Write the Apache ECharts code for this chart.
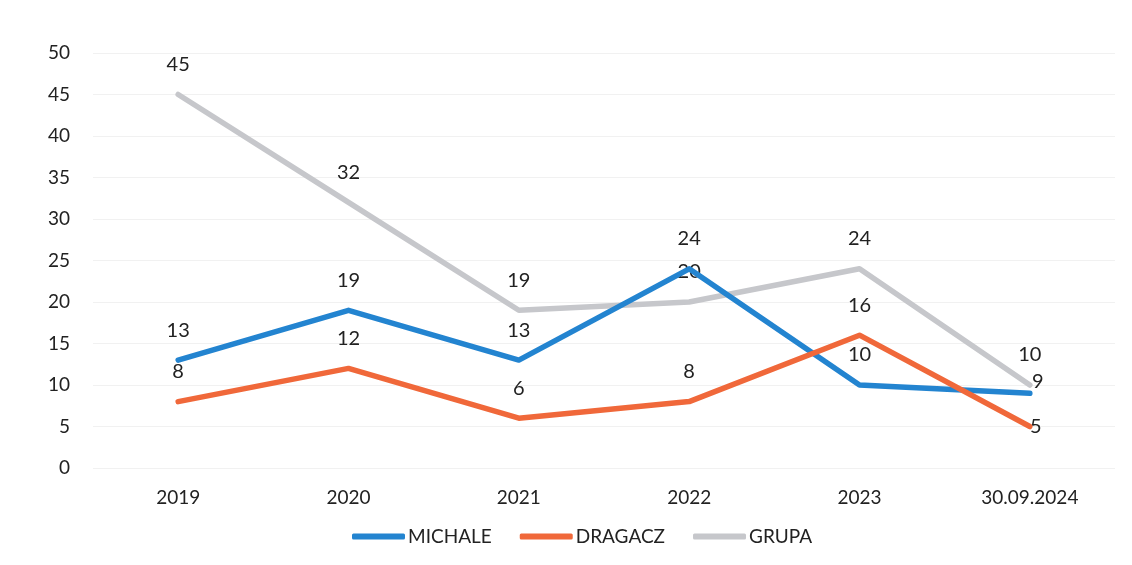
<!DOCTYPE html>
<html>
<head>
<meta charset="utf-8">
<script src="https://cdn.jsdelivr.net/npm/echarts@6/dist/echarts.min.js"></script>
<style>html,body{margin:0;padding:0;background:#fff}#c{width:1132px;height:565px}</style>
</head>
<body>
<div id="c"></div>
<script>
const categories = ['2019', '2020', '2021', '2022', '2023', '30.09.2024'];
const michale = [13, 19, 13, 24, 10, 9];
const dragacz = [8, 12, 6, 8, 16, 5];
const grupa = [45, 32, 19, 20, 24, 10];
const yTicks = { min: 0, max: 50, interval: 5 };

const FONT = 'Lato';
const labelStyle = { show: true, position: 'top', distance: 20, fontSize: 20, color: '#222', fontFamily: FONT };

function withLastOffset(values, offset) {
  return values.map((v, i) => i === values.length - 1
    ? { value: v, label: { position: 'inside', offset: offset } }
    : v);
}

function lineSeries(name, data, color, z) {
  return {
    name: name, type: 'line', data: data, z: z,
    symbol: 'circle', symbolSize: 0, showSymbol: true,
    lineStyle: { color: color, width: 5.5, cap: 'round', join: 'round' },
    itemStyle: { color: color },
    label: labelStyle,
    emphasis: { disabled: true }
  };
}

const chart = echarts.init(document.getElementById('c'));
chart.setOption({
  animation: false,
  backgroundColor: '#fff',
  grid: { left: 93, right: 17, top: 53, bottom: 97 },
  xAxis: {
    type: 'category',
    data: categories,
    boundaryGap: true,
    axisLine: { show: false },
    axisTick: { show: false },
    axisLabel: { fontSize: 19, color: '#222', fontFamily: FONT, margin: 20 }
  },
  yAxis: {
    type: 'value',
    min: yTicks.min, max: yTicks.max, interval: yTicks.interval,
    axisLine: { show: false },
    axisTick: { show: false },
    axisLabel: { fontSize: 19, color: '#222', fontFamily: FONT, margin: 23 },
    splitLine: { lineStyle: { color: '#f1f1f1', width: 1 } }
  },
  legend: {
    bottom: 14,
    left: 347,
    icon: 'roundRect',
    itemWidth: 53,
    itemHeight: 6,
    itemGap: 28,
    textStyle: { fontSize: 19, color: '#222', fontFamily: FONT, padding: [0, 0, 0, -2] },
    data: ['MICHALE', 'DRAGACZ', 'GRUPA']
  },
  series: [
    lineSeries('GRUPA', grupa, '#c6c7cb', 2),
    lineSeries('MICHALE', withLastOffset(michale, [8, -12]), '#2384d0', 3),
    lineSeries('DRAGACZ', withLastOffset(dragacz, [6, 0]), '#f0683a', 4)
  ]
});
</script>
</body>
</html>
